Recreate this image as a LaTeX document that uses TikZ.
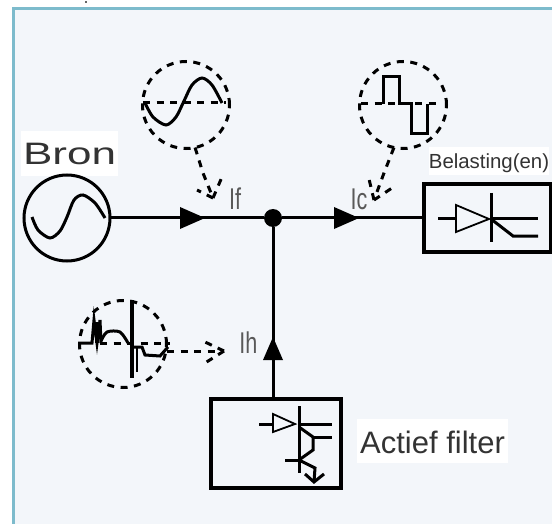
\documentclass[tikz,border=0pt]{standalone}
\usepackage{fontspec}
\setmainfont{Liberation Sans}
\definecolor{panelbg}{HTML}{F3F6FA}
\definecolor{panelframe}{HTML}{7DBBCC}
\tikzset{
  wire/.style={line width=3pt},
  thinwire/.style={line width=1.8pt},
  dashwire/.style={line width=3pt, dash pattern=on 7pt off 6.5pt},
  wavecircle/.style={circle, draw, dashwire, minimum size=87pt, inner sep=0pt, outer sep=0pt},
  block/.style={rectangle, draw, line width=3.4pt, inner sep=0pt, outer sep=0pt},
  current/.style={text=black!65, inner sep=0pt, font=\fontsize{30}{30}\selectfont, xscale=.72},
  caption/.style={fill=white, inner sep=0pt, text=black!80},
}
\begin{document}
\begin{tikzpicture}[x=1pt, y=-1pt]
\useasboundingbox (0,0) rectangle (552,524);
\fill[white] (0,0) rectangle (552,524);
\fill[panelbg] (14,9) rectangle (552,524);
\fill[black!60] (84.5,1) rectangle (86.5,3.5);
\draw[line width=3pt, panelframe] (13.5,524) -- (13.5,8.5) -- (552,8.5);

% source
\node[caption, minimum width=97pt, minimum height=45pt] (bronbox) at (69.5,153.5) {};
\node[caption, fill=none, xscale=1.42, font=\fontsize{31}{31}\selectfont] (bron) at (69.5,154) {\textcolor{black!80}{Bron}};
\node[circle, draw, wire, minimum size=86pt, inner sep=0pt, outer sep=0pt] (source) at (67,218) {};
\draw[wire] plot[smooth] coordinates {(32,217) (38,230) (50,238) (60,231) (67,217) (74,200) (83,195) (95,203) (105,218)};

% main lines
\node[circle, fill=black, minimum size=18pt, inner sep=0pt] (junction) at (273,218) {};
\node[block, minimum width=127pt, minimum height=68pt] (load) at (487.5,218) {};
\node[block, minimum width=130pt, minimum height=89pt] (filter) at (276,443.5) {};
\draw[wire] (source) -- (junction);
\draw[wire] (junction) -- (load);
\draw[wire] (junction) -- (junction |- filter.north);
\fill (180,207) -- (205,218) -- (180,229) -- cycle;
\fill (334,207) -- (359,218) -- (334,229) -- cycle;
\fill (263,360) -- (273,337) -- (283,360) -- cycle;

% fundamental
\node[wavecircle] (wavef) at (186,105) {};
\draw[dashwire] (143,103) -- (226,103);
\draw[wire] plot[smooth] coordinates {(145,103) (153,117) (166,125) (176,117) (184,101) (192,85) (202,78) (212,85) (222,103)};
\coordinate (tipf) at (213,198);
\draw[dashwire] (wavef.-78) -- (203,173) -- (tipf);
\draw[dashwire] (tipf) -- (197,190);
\draw[dashwire] (tipf) -- (222,177);
\node[current] (if) at (235,199) {If};

% load current
\node[wavecircle] (wavec) at (403,105) {};
\draw[dashwire] (361,104) -- (439,104);
\draw[wire] (383,104) -- (383,77) -- (399,77) -- (399,104) -- (411,104) -- (411,134) -- (427,134) -- (427,104);
\coordinate (tipc) at (374,200);
\draw[dashwire] (wavec.-102) -- (384,173) -- (tipc);
\draw[dashwire] (tipc) -- (369,179);
\draw[dashwire] (tipc) -- (392,188);
\node[current] (ic) at (359,199) {Ic};

% harmonics
\node[wavecircle] (waveh) at (123,344) {};
\draw[dashwire] (100,343) -- (170,343);
\draw[wire] (78,343) -- (92,343) -- (94,320) -- (97,343) -- (100,320) -- (101,343);
\draw[line width=4pt] (97,322) -- (97,343);
\draw[wire] plot[smooth] coordinates {(101,341) (107,332) (120,332) (128,343)};
\draw[line width=4pt] (132,300) -- (132,378);
\draw[line width=1.8pt] (137,346) -- (137,372);
\draw[wire] (134,347) -- (142,347) -- (145,355) -- (160,356) -- (168,347);
\coordinate (tiph) at (224,351);
\draw[dashwire] (167,351) -- (tiph);
\draw[dashwire] (tiph) -- (205,342);
\draw[dashwire] (tiph) -- (205,363);
\node[current] (ih) at (248.5,343) {Ih};

% load symbol
\draw[thinwire] (456,205) -- (489,219) -- (456,232) -- cycle;
\draw[wire] (438,219) -- (456,219);
\draw[wire] (491,193) -- (491,242);
\draw[wire] (491,219) -- (538,219);
\draw[wire] (491,219) -- (513,236) -- (538,236);
\node[caption, minimum width=120pt, minimum height=28pt] (loadbox) at (489,161) {};
\node[caption, fill=none, font=\fontsize{20.4}{20.4}\selectfont] (belasting) at (489,163) {Belasting(en)};

% filter symbol
\draw[thinwire] (273,414) -- (295,424) -- (273,432) -- cycle;
\draw[wire] (259,424) -- (273,424);
\draw[wire] (299,406) -- (299,473);
\draw[wire] (299,424) -- (332,424);
\draw[wire] (299,427) -- (313,437) -- (313,450) -- (299,460);
\draw[wire] (313,437) -- (332,437);
\draw[wire] (285,460) -- (299,460);
\draw[wire] (299,460) -- (315,468) -- (314,482);
\draw[wire] (305,474) -- (314,482) -- (324,474);
\node[caption, minimum width=151pt, minimum height=44pt] (filterbox) at (432.5,441) {};
\node[caption, fill=none, font=\fontsize{31}{31}\selectfont] (actief) at (432.5,442) {Actief filter};
\end{tikzpicture}
\end{document}
